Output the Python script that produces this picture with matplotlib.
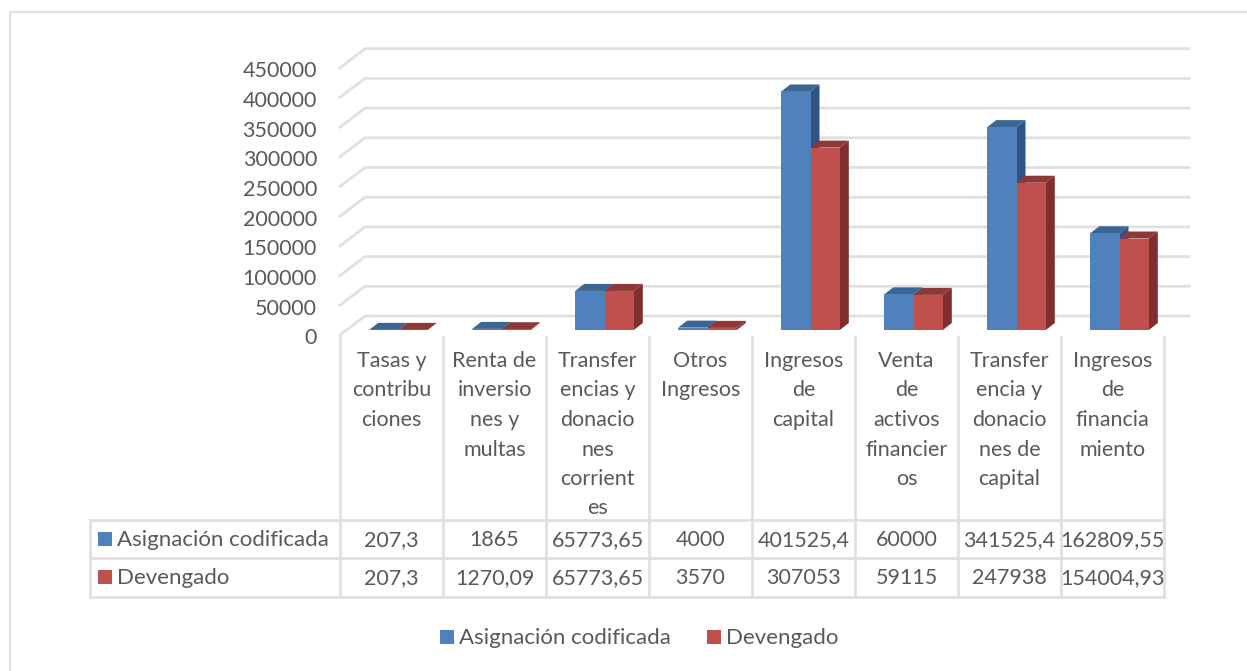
import matplotlib
matplotlib.use('Agg')
import matplotlib.pyplot as plt
from matplotlib.patches import Polygon, Rectangle

plt.rcParams['font.family'] = ['Lato', 'DejaVu Sans']

categories = [
    ['Tasas y', 'contribu', 'ciones'],
    ['Renta de', 'inversio', 'nes y', 'multas'],
    ['Transfer', 'encias y', 'donacio', 'nes', 'corrient', 'es'],
    ['Otros', 'Ingresos'],
    ['Ingresos', 'de', 'capital'],
    ['Venta', 'de', 'activos', 'financier', 'os'],
    ['Transfer', 'encia y', 'donacio', 'nes de', 'capital'],
    ['Ingresos', 'de', 'financia', 'miento'],
]
series_names = ['Asignación codificada', 'Devengado']
asignacion = [207.3, 1865, 65773.65, 4000, 401525.4, 60000, 341525.4, 162809.55]
devengado = [207.3, 1270.09, 65773.65, 3570, 307053, 59115, 247938, 154004.93]
asignacion_txt = ['207,3', '1865', '65773,65', '4000', '401525,4', '60000', '341525,4', '162809,55']
devengado_txt = ['207,3', '1270,09', '65773,65', '3570', '307053', '59115', '247938', '154004,93']
yticks = [0, 50000, 100000, 150000, 200000, 250000, 300000, 350000, 400000, 450000]

W, H = 1247, 671
BLUE, BLUE_TOP, BLUE_SIDE = '#4F81BD', '#3B6593', '#2F5483'
RED, RED_TOP, RED_SIDE = '#C0504D', '#8E3937', '#7E2F2D'
GRID = '#E0E0E0'
TEXT = '#595959'
FS = 15.5
FS_NAME = 16

fig = plt.figure(figsize=(W / 100, H / 100), dpi=100)

# overlay in pixels for the table, frame and legend
px = fig.add_axes([0, 0, 1, 1])
px.set_xlim(0, W)
px.set_ylim(H, 0)
px.axis('off')

# main axes: front edge of the floor at y=335, one category = 103 px
left, right, y0, ytop = 340, 1164, 335, 67.7
ax = fig.add_axes([left / W, 1 - y0 / H, (right - left) / W, (y0 - ytop) / H])
ax.set_xlim(-0.5, 7.5)
ax.set_ylim(0, 450000)
ax.axis('off')
ax.patch.set_alpha(0)

x_px = 1 / 103.0
y_px = 450000 / (y0 - ytop)

# walls
wall_dx, wall_dy = 25 * x_px, 19 * y_px
for v in yticks:
    ax.plot([-0.5, -0.5 + wall_dx, 7.5 + wall_dx], [v, v + wall_dy, v + wall_dy],
            color=GRID, lw=2, clip_on=False, zorder=1, solid_joinstyle='miter')

# bars
bar_w = 29.3 * x_px
shift = 7 * x_px
base = 5 * y_px
dx, dy = 9 * x_px, 7 * y_px


def draw_bars(xs, values, front, top, side, z):
    ax.bar(xs, values, bar_w, bottom=base, color=front, clip_on=False, zorder=z + 1,
           linewidth=0)
    for x, v in zip(xs, values):
        l, r = x - bar_w / 2, x + bar_w / 2
        t = base + v
        ax.add_patch(Polygon([(l, t), (r, t), (r + dx, t + dy), (l + dx, t + dy)],
                             closed=True, fc=top, ec='none', clip_on=False, zorder=z))
        ax.add_patch(Polygon([(r, base), (r, t), (r + dx, t + dy), (r + dx, base + dy)],
                             closed=True, fc=side, ec='none', clip_on=False, zorder=z))


draw_bars([i + shift - bar_w / 2 for i in range(8)], asignacion, BLUE, BLUE_TOP, BLUE_SIDE, 2)
draw_bars([i + shift + bar_w / 2 for i in range(8)], devengado, RED, RED_TOP, RED_SIDE, 4)

# value axis labels
for v in yticks:
    ax.annotate(str(v), (-0.5, v), xytext=(317, H - (y0 - v / y_px + 9.5)),
                textcoords='figure pixels', ha='right', va='baseline',
                fontsize=FS, color=TEXT, annotation_clip=False)

# chart frame, open at right and bottom as the crop cuts it
px.plot([10, 10, W], [H, 12, 12], color=GRID, lw=1.6, solid_joinstyle='miter')

# data table
cols = [left + 103 * i for i in range(9)]
for x in cols:
    px.plot([x, x], [337, 597], color=GRID, lw=2)
px.plot([90, 90], [520, 597], color=GRID, lw=2)
for y in [520, 558, 597]:
    px.plot([90, right], [y, y], color=GRID, lw=2)

for i, lines in enumerate(categories):
    xc = cols[i] + 51.5
    for j, line in enumerate(lines):
        px.text(xc, 367 + j * 29.5, line, ha='center', va='baseline', fontsize=FS, color=TEXT)
    px.text(xc, 546, asignacion_txt[i], ha='center', va='baseline', fontsize=FS, color=TEXT)
    px.text(xc, 584, devengado_txt[i], ha='center', va='baseline', fontsize=FS, color=TEXT)

for name, color, y in zip(series_names, [BLUE, RED], [539, 577]):
    px.add_patch(Rectangle((98, y - 7), 14, 14, fc=color, ec='none'))
    px.text(117, y + 7, name, ha='left', va='baseline', fontsize=FS_NAME, color=TEXT)

# legend
for name, color, x in zip(series_names, [BLUE, RED], [440, 707]):
    px.add_patch(Rectangle((x, 630), 14, 14, fc=color, ec='none'))
    px.text(x + 19, 644, name, ha='left', va='baseline', fontsize=FS_NAME, color=TEXT)

fig.savefig('out.png', dpi=100, facecolor='white')
